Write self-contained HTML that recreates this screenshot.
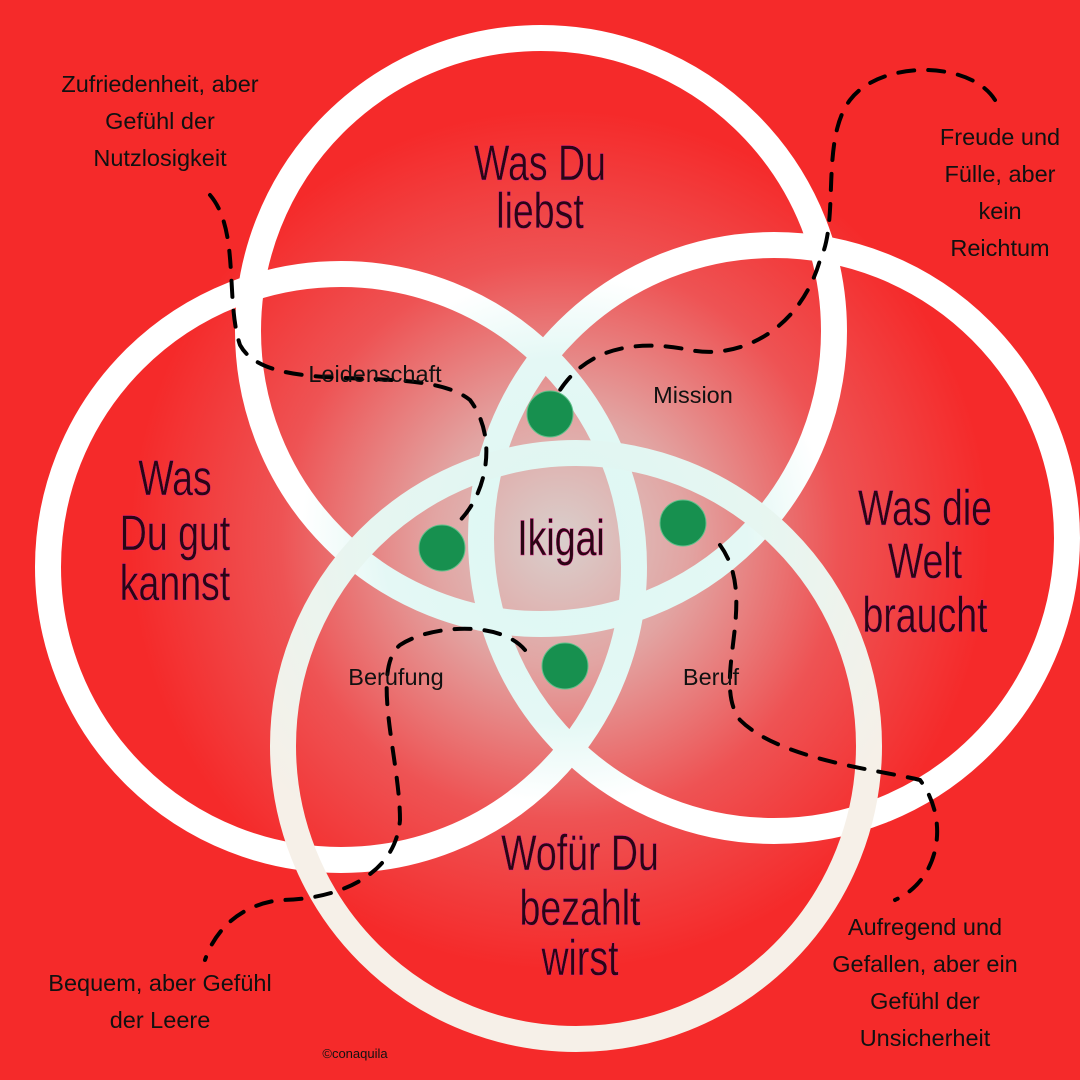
<!DOCTYPE html>
<html><head><meta charset="utf-8"><style>
html,body{margin:0;padding:0;width:1080px;height:1080px;overflow:hidden;background:#f52a2a}
svg{display:block}
.t{font-family:"Liberation Sans",sans-serif;font-size:23.5px;fill:#111}
.h{font-family:"Liberation Sans Narrow","Liberation Sans",sans-serif;font-size:50px;fill:#2a0614;stroke:#e0208a;stroke-width:0.4}
</style></head><body>
<svg width="1080" height="1080" viewBox="0 0 1080 1080">
<defs>
<radialGradient id="bg" cx="560" cy="540" r="430" gradientUnits="userSpaceOnUse">
<stop offset="0" stop-color="#d9cfcc"/>
<stop offset="0.3" stop-color="#e2a4a2"/>
<stop offset="0.65" stop-color="#ee5354"/>
<stop offset="1" stop-color="#f52a2a"/>
</radialGradient>
<radialGradient id="st" cx="565" cy="540" r="330" gradientUnits="userSpaceOnUse">
<stop offset="0" stop-color="#ddf7f3"/>
<stop offset="0.55" stop-color="#e4f8f5"/>
<stop offset="0.8" stop-color="#ffffff"/>
<stop offset="1" stop-color="#ffffff"/>
</radialGradient>
<radialGradient id="st2" cx="565" cy="540" r="380" gradientUnits="userSpaceOnUse">
<stop offset="0" stop-color="#ddf7f3"/>
<stop offset="0.5" stop-color="#e6f6f1"/>
<stop offset="1" stop-color="#f6f0e8"/>
</radialGradient>
</defs>
<rect width="1080" height="1080" fill="url(#bg)"/>
<g fill="none" stroke-width="26">
<circle cx="541" cy="331" r="293" stroke="url(#st)"/>
<circle cx="341" cy="567" r="293" stroke="url(#st)"/>
<circle cx="774" cy="538" r="293" stroke="url(#st)"/>
<circle cx="576" cy="746" r="293" stroke="url(#st2)"/>
</g>
<g fill="#17904f" stroke="#5fc08a" stroke-width="1">
<circle cx="550" cy="414" r="23"/>
<circle cx="442" cy="548" r="23"/>
<circle cx="683" cy="523" r="23"/>
<circle cx="565" cy="666" r="23"/>
</g>
<g fill="none" stroke="#000" stroke-width="4" stroke-dasharray="16 14" stroke-linecap="round">
<path d="M210 195 C240 230 225 300 240 345 C270 400 420 360 470 400 C500 440 485 500 455 525"/>
<path d="M995 100 C970 60 880 60 850 100 C820 140 840 220 820 260 C800 330 740 360 690 350 C640 340 590 345 560 390"/>
<path d="M720 545 C760 600 710 680 740 720 C780 760 880 770 920 780 C950 820 940 880 895 900"/>
<path d="M525 650 C500 620 430 625 400 645 C370 670 400 760 400 820 C395 880 330 900 280 900 C240 905 215 930 205 960"/>
</g>
<g class="t" text-anchor="middle">
<text x="160" y="92">Zufriedenheit, aber</text>
<text x="160" y="129">Gefühl der</text>
<text x="160" y="166">Nutzlosigkeit</text>
<text x="1000" y="145">Freude und</text>
<text x="1000" y="182">Fülle, aber</text>
<text x="1000" y="219">kein</text>
<text x="1000" y="256">Reichtum</text>
<text x="160" y="991">Bequem, aber Gefühl</text>
<text x="160" y="1028">der Leere</text>
<text x="925" y="935">Aufregend und</text>
<text x="925" y="972">Gefallen, aber ein</text>
<text x="925" y="1009">Gefühl der</text>
<text x="925" y="1046">Unsicherheit</text>
<text x="375" y="382">Leidenschaft</text>
<text x="693" y="403">Mission</text>
<text x="396" y="685">Berufung</text>
<text x="711" y="685">Beruf</text>
<text x="355" y="1058" style="font-size:13px">©conaquila</text>
</g>
<g class="h" text-anchor="middle">
<text x="540" y="180" transform="translate(540 0) scale(0.75 1) translate(-540 0)">Was Du</text>
<text x="540" y="228" transform="translate(540 0) scale(0.75 1) translate(-540 0)">liebst</text>
<text x="175" y="495" transform="translate(175 0) scale(0.75 1) translate(-175 0)">Was</text>
<text x="175" y="550" transform="translate(175 0) scale(0.75 1) translate(-175 0)">Du gut</text>
<text x="175" y="600" transform="translate(175 0) scale(0.75 1) translate(-175 0)">kannst</text>
<text x="925" y="525" transform="translate(925 0) scale(0.75 1) translate(-925 0)">Was die</text>
<text x="925" y="578" transform="translate(925 0) scale(0.75 1) translate(-925 0)">Welt</text>
<text x="925" y="632" transform="translate(925 0) scale(0.75 1) translate(-925 0)">braucht</text>
<text x="580" y="870" transform="translate(580 0) scale(0.75 1) translate(-580 0)">Wofür Du</text>
<text x="580" y="925" transform="translate(580 0) scale(0.75 1) translate(-580 0)">bezahlt</text>
<text x="580" y="975" transform="translate(580 0) scale(0.75 1) translate(-580 0)">wirst</text>
<text x="561" y="555" transform="translate(561 0) scale(0.75 1) translate(-561 0)">Ikigai</text>
</g>
</svg>
</body></html>
